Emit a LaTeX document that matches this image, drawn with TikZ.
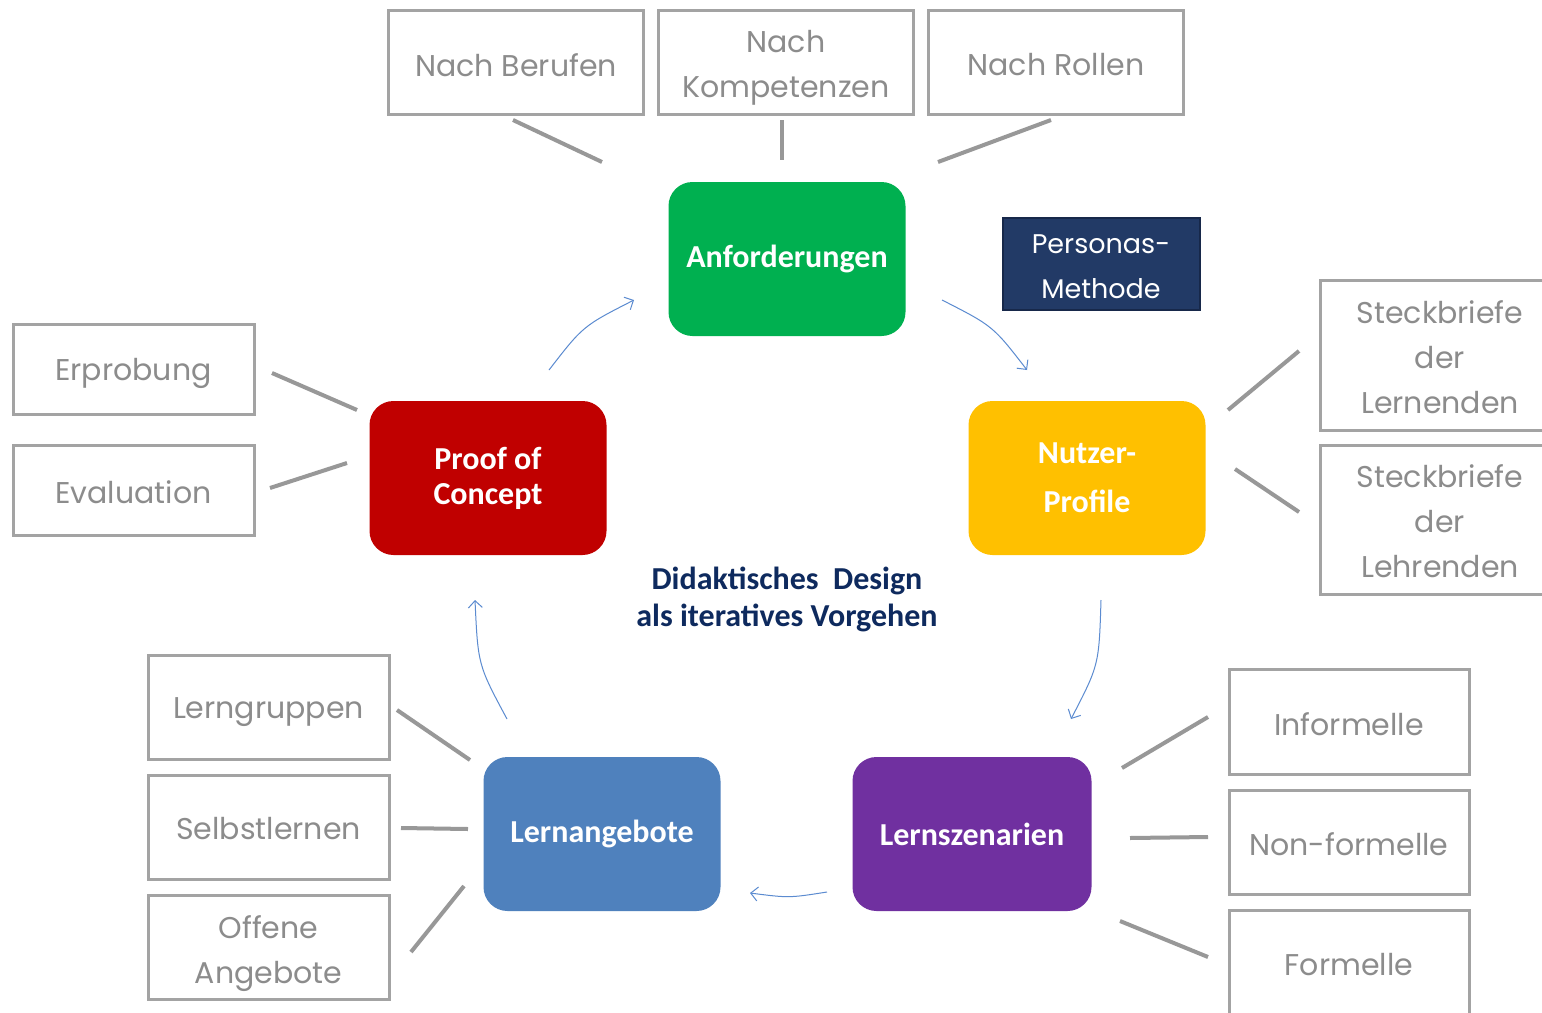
\documentclass[tikz,border=0pt]{standalone}
\usepackage{fontspec}
\usetikzlibrary{arrows.meta}
\newfontfamily\gfont{Poppins}
\newfontfamily\bfont{Carlito}
\definecolor{txtgray}{HTML}{8C8C8C}
\definecolor{boxgray}{HTML}{A3A3A3}
\definecolor{linegray}{HTML}{989898}
\definecolor{arrblue}{HTML}{5B8BD0}
\definecolor{cgreen}{HTML}{00B050}
\definecolor{cyellow}{HTML}{FFC000}
\definecolor{cred}{HTML}{C00000}
\definecolor{cblue}{HTML}{4F81BD}
\definecolor{cpurple}{HTML}{7030A0}
\definecolor{cnavy}{HTML}{223A66}
\definecolor{cnavyb}{HTML}{17284A}
\definecolor{ctext}{HTML}{0E2A5E}
\tikzset{
  graybox/.style={draw=boxgray, line width=3pt, fill=white, inner sep=0pt},
  gtext/.style={text=txtgray, align=center, inner sep=0pt, font=\gfont\fontsize{30}{45}\selectfont},
  mainbox/.style={rounded corners=24pt, inner sep=0pt, text=white, align=center,
    minimum width=237pt, minimum height=154pt,
    font=\bfont\bfseries\fontsize{32}{35}\selectfont},
  link/.style={draw=linegray, line width=4pt},
  cyc/.style={draw=arrblue, line width=1pt, -{Straight Barb[length=7pt,width=14pt]}}
}
% #1 name, #2 position, #3 width, #4 height, #5 text, #6 text shift
\newcommand\grbox[6]{\node[graybox, minimum width=#3, minimum height=#4,
  label={[gtext, yshift=#6]center:#5}] (#1) at (#2) {};}
\begin{document}
\begin{tikzpicture}[x=1pt,y=-1pt]
\clip (0,0) rectangle (1542,1012);
\fill[white] (0,0) rectangle (1542,1012);
% top boxes
\grbox{berufen}{516,62}{255pt}{104pt}{Nach Berufen}{-3pt}
\grbox{kompet}{786,62}{255pt}{104pt}{Nach\\Kompetenzen}{-5.5pt}
\grbox{rollen}{1056,62}{255pt}{104pt}{Nach Rollen}{-3pt}
% main boxes
\node[mainbox, fill=cgreen] (anf) at (787,259) {Anforderungen};
\node[mainbox, fill=cyellow, font=\bfont\bfseries\fontsize{32}{49}\selectfont] (nutzer) at (1087,478) {Nutzer-\\Profile};
\node[mainbox, fill=cred] (poc) at (488,478) {Proof of\\Concept};
\node[mainbox, fill=cblue] (angebote) at (602,834) {Lernangebote};
\node[mainbox, fill=cpurple, minimum width=239pt] (szen) at (972,834) {Lernszenarien};
% personas
\node[draw=cnavyb, line width=2pt, fill=cnavy, minimum width=197pt, minimum height=92pt, inner sep=0pt,
  label={[text=white, align=center, inner sep=0pt, yshift=-3pt, font=\gfont\fontsize{27}{45}\selectfont]center:Personas-\\Methode}] (personas) at (1101,264) {};
% right boxes
\grbox{lernende}{1440,355}{240pt}{150pt}{Steckbriefe\\der\\Lernenden}{-2pt}
\grbox{lehrende}{1440,520}{240pt}{149pt}{Steckbriefe\\der\\Lehrenden}{-1.5pt}
% left boxes
\grbox{erprob}{133.5,369}{241pt}{90pt}{Erprobung}{-4.5pt}
\grbox{evalu}{133.5,490}{241pt}{90pt}{Evaluation}{-2pt}
% bottom left boxes
\grbox{lerngr}{268.5,707}{241pt}{104pt}{Lerngruppen}{-5pt}
\grbox{selbst}{268.5,827}{241pt}{104pt}{Selbstlernen}{-2pt}
\grbox{offene}{268.5,947}{241pt}{104pt}{Offene\\Angebote}{-7pt}
% bottom right boxes
\grbox{inform}{1349,721.5}{240pt}{105pt}{Informelle}{-3pt}
\grbox{nonf}{1349,842}{240pt}{104pt}{Non-formelle}{-2pt}
\grbox{formelle}{1349,962}{240pt}{104pt}{Formelle}{-3pt}
% center text
\node[text=ctext, align=center, font=\bfont\bfseries\fontsize{32}{37}\selectfont] (center) at (787,599) {Didaktisches~ Design\\als iteratives Vorgehen};
% connector end points
\coordinate (b1) at (513,120); \coordinate (b2) at (602,162);
\coordinate (k1) at (782,120); \coordinate (k2) at (782,160);
\coordinate (r1) at (1051,120); \coordinate (r2) at (938,162);
\coordinate (n1) at (1228,410); \coordinate (n2) at (1299,351);
\coordinate (n3) at (1235,469); \coordinate (n4) at (1299,512);
\coordinate (p1) at (272,373); \coordinate (p2) at (357,410);
\coordinate (p3) at (270,488); \coordinate (p4) at (347,463);
\coordinate (a1) at (397,710); \coordinate (a2) at (470,760);
\coordinate (a3) at (401,828); \coordinate (a4) at (468,829);
\coordinate (a5) at (411,952); \coordinate (a6) at (464,886);
\coordinate (s1) at (1122,768); \coordinate (s2) at (1208,717);
\coordinate (s3) at (1130,838); \coordinate (s4) at (1208,837);
\coordinate (s5) at (1120,921); \coordinate (s6) at (1208,957);
\draw[link] (b1) -- (b2);
\draw[link] (k1) -- (k2);
\draw[link] (r1) -- (r2);
\draw[link] (n1) -- (n2);
\draw[link] (n3) -- (n4);
\draw[link] (p1) -- (p2);
\draw[link] (p3) -- (p4);
\draw[link] (a1) -- (a2);
\draw[link] (a3) -- (a4);
\draw[link] (a5) -- (a6);
\draw[link] (s1) -- (s2);
\draw[link] (s3) -- (s4);
\draw[link] (s5) -- (s6);
% cycle arrows
\coordinate (c1a) at (549,370); \coordinate (c1b) at (634,300);
\coordinate (c2a) at (942,300); \coordinate (c2b) at (1027,370);
\coordinate (c3a) at (1101,600); \coordinate (c3b) at (1071,719);
\coordinate (c4a) at (827,892); \coordinate (c4b) at (750,893);
\coordinate (c5a) at (507,719); \coordinate (c5b) at (475,600);
\draw[cyc] (c1a) .. controls (583,326) .. (c1b);
\draw[cyc] (c2a) .. controls (993,326) .. (c2b);
\draw[cyc] (c3a) .. controls (1099,665) .. (c3b);
\draw[cyc] (c4a) .. controls (789,898) .. (c4b);
\draw[cyc] (c5a) .. controls (478,665) .. (c5b);
\end{tikzpicture}
\end{document}
